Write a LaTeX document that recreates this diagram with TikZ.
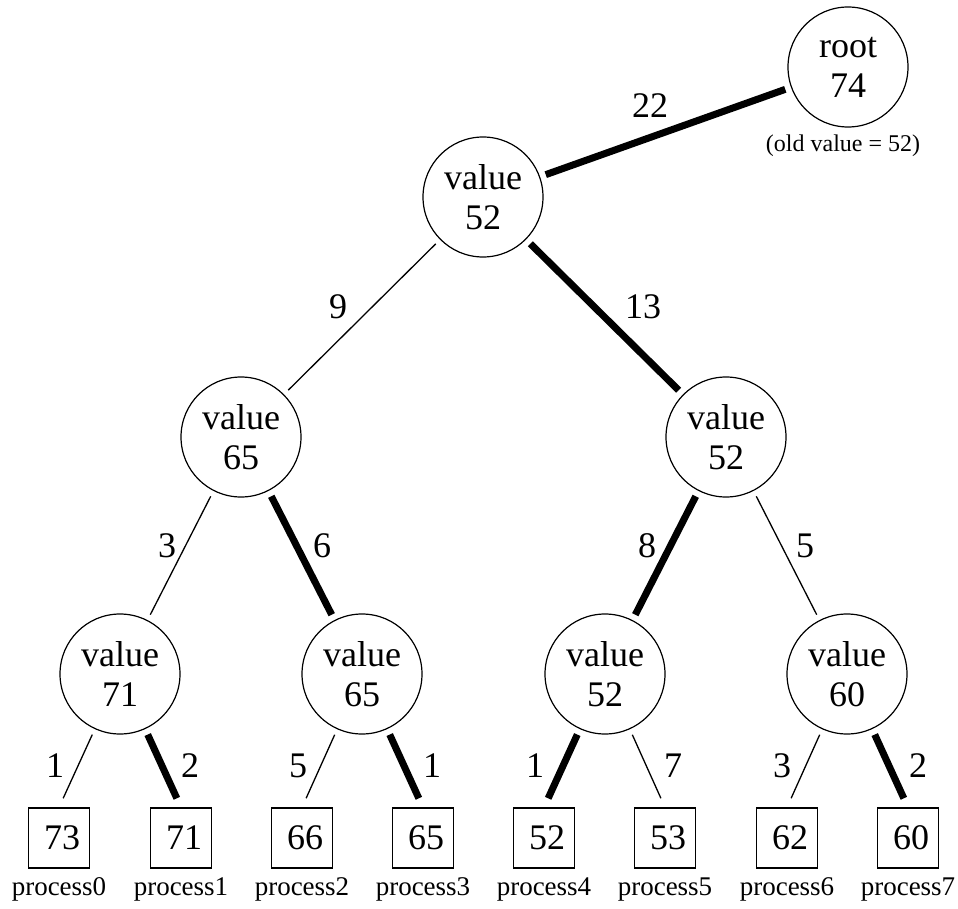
\documentclass[tikz,border=0pt]{standalone}
\usepackage{fontspec}
\setmainfont{Liberation Serif}
\begin{document}
\begin{tikzpicture}[x=1pt,y=-1pt,
  vnode/.style={circle,draw,line width=1.2pt,minimum size=120pt,inner sep=0pt,align=center,font=\fontsize{36}{40}\selectfont},
  leaf/.style={rectangle,draw,line width=1.2pt,minimum width=61pt,minimum height=60pt,inner sep=0pt,font=\fontsize{36}{40}\selectfont},
  plabel/.style={anchor=base,inner sep=0pt,font=\fontsize{27}{30}\selectfont},
  elabel/.style={anchor=base,inner sep=0pt,font=\fontsize{36}{40}\selectfont},
  thinedge/.style={line width=1.3pt,shorten <=6pt,shorten >=6pt},
  thickedge/.style={line width=7pt,shorten <=6pt,shorten >=6pt},
  thinleaf/.style={line width=1.3pt,shorten <=6pt,shorten >=10pt},
  thickleaf/.style={line width=7pt,shorten <=6pt,shorten >=10pt},
]
\useasboundingbox (0,0) rectangle (958,909);
% tree nodes
\node[vnode] (root) at (848,67) {root\\74};
\node[vnode] (v1) at (483,197) {value\\52};
\node[vnode] (v2a) at (241,437) {value\\65};
\node[vnode] (v2b) at (726,437) {value\\52};
\node[vnode] (v3a) at (120,674) {value\\71};
\node[vnode] (v3b) at (362,674) {value\\65};
\node[vnode] (v3c) at (605,674) {value\\52};
\node[vnode] (v3d) at (847,674) {value\\60};
% leaves
\node[leaf] (p0) at (59,838) {\hspace{6pt}73};
\node[leaf] (p1) at (181,838) {\hspace{6pt}71};
\node[leaf] (p2) at (302,838) {\hspace{6pt}66};
\node[leaf] (p3) at (423,838) {\hspace{6pt}65};
\node[leaf] (p4) at (544,838) {\hspace{6pt}52};
\node[leaf] (p5) at (665,838) {\hspace{6pt}53};
\node[leaf] (p6) at (787,838) {\hspace{6pt}62};
\node[leaf] (p7) at (908,838) {\hspace{6pt}60};
% process labels
\node[plabel] (n0) at (59,895) {process0};
\node[plabel] (n1) at (181,895) {process1};
\node[plabel] (n2) at (302,895) {process2};
\node[plabel] (n3) at (423,895) {process3};
\node[plabel] (n4) at (544,895) {process4};
\node[plabel] (n5) at (665,895) {process5};
\node[plabel] (n6) at (787,895) {process6};
\node[plabel] (n7) at (908,895) {process7};
\node[anchor=base,inner sep=0pt,font=\fontsize{24}{26}\selectfont] (old) at (843,152) {(old value = 52)};
% edges
\draw[thickedge] (v1) -- (root);
\draw[thinedge] (v1) -- (v2a);
\draw[thickedge] (v1) -- (v2b);
\draw[thinedge] (v2a) -- (v3a);
\draw[thickedge] (v2a) -- (v3b);
\draw[thickedge] (v2b) -- (v3c);
\draw[thinedge] (v2b) -- (v3d);
\draw[thinleaf] (v3a) -- (p0.north);
\draw[thickleaf] (v3a) -- (p1.north);
\draw[thinleaf] (v3b) -- (p2.north);
\draw[thickleaf] (v3b) -- (p3.north);
\draw[thickleaf] (v3c) -- (p4.north);
\draw[thinleaf] (v3c) -- (p5.north);
\draw[thinleaf] (v3d) -- (p6.north);
\draw[thickleaf] (v3d) -- (p7.north);
% edge labels
\node[elabel] (e22) at (650,118) {22};
\node[elabel] (e9) at (338,318) {9};
\node[elabel] (e13) at (643,318) {13};
\node[elabel] (e3a) at (167,557) {3};
\node[elabel] (e6) at (322,557) {6};
\node[elabel] (e8) at (647,557) {8};
\node[elabel] (e5a) at (805,557) {5};
\node[elabel] (l0) at (55,777) {1};
\node[elabel] (l1) at (190,777) {2};
\node[elabel] (l2) at (298,777) {5};
\node[elabel] (l3) at (432,777) {1};
\node[elabel] (l4) at (535,777) {1};
\node[elabel] (l5) at (673,777) {7};
\node[elabel] (l6) at (782,777) {3};
\node[elabel] (l7) at (918,777) {2};
\end{tikzpicture}
\end{document}
